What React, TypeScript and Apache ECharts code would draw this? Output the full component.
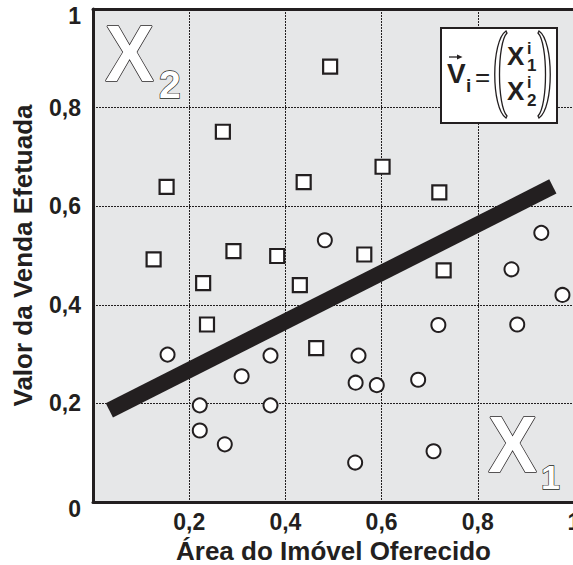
import React, { useEffect, useRef } from "react";
import * as echarts from "echarts";

// Tick labels (pt-BR decimal comma)
const xTickLabels = ["", "0,2", "0,4", "0,6", "0,8", "1"];
const yTickLabels = ["0", "0,2", "0,4", "0,6", "0,8", "1"];

// Class X2 (squares)
const squareX = [0.493, 0.270, 0.153, 0.438, 0.602, 0.720, 0.126, 0.292, 0.383, 0.229, 0.430, 0.564, 0.729, 0.237, 0.464];
const squareY = [0.883, 0.751, 0.639, 0.649, 0.680, 0.628, 0.492, 0.509, 0.499, 0.444, 0.440, 0.502, 0.470, 0.360, 0.312];

// Class X1 (circles)
const circleX = [0.482, 0.932, 0.870, 0.976, 0.718, 0.882, 0.155, 0.369, 0.309, 0.222, 0.369, 0.222, 0.274, 0.552, 0.546, 0.590, 0.676, 0.708, 0.545];
const circleY = [0.531, 0.546, 0.472, 0.420, 0.359, 0.360, 0.299, 0.297, 0.255, 0.196, 0.196, 0.145, 0.117, 0.297, 0.242, 0.237, 0.248, 0.103, 0.080];

// Separating line
const lineX = [0.034, 0.956];
const lineY = [0.186, 0.640];

const DARK = "#231f20";
const FONT = "'Liberation Sans', Arial, Helvetica, sans-serif";

const LPAREN = "M13 0 C-2 10 -2 77 13 87 L14 85 C4 75 4 12 14 2 Z";

export default function App() {
  const ref = useRef<HTMLDivElement>(null);

  useEffect(() => {
    if (!ref.current) return;
    echarts.graphic.registerShape("lparen", echarts.graphic.extendPath(LPAREN, {}) as any);
    const chart = echarts.init(ref.current, null, { renderer: "svg" });

    const idx = (v: number) => Math.round(v / 0.2);

    const option: any = {
      animation: false,
      grid: {
        left: 93,
        top: 9,
        width: 481,
        height: 493,
        show: true,
        backgroundColor: "#e6e7e8",
        borderWidth: 0,
        containLabel: false,
        outerBoundsMode: "none",
      },
      xAxis: [
        {
          type: "value",
          min: 0,
          max: 1,
          interval: 0.2,
          name: "Área do Imóvel Oferecido",
          nameLocation: "middle",
          nameGap: 28,
          nameTextStyle: { fontFamily: FONT, fontWeight: "bold", fontSize: 26, color: DARK },
          axisLine: { show: true, onZero: false, lineStyle: { color: DARK, width: 3 } },
          axisTick: { show: false },
          axisLabel: {
            margin: 8,
            fontFamily: FONT,
            fontWeight: "bold",
            fontSize: 23,
            color: DARK,
            hideOverlap: false,
            formatter: (v: number) => xTickLabels[idx(v)],
          },
          splitLine: { show: true, lineStyle: { color: DARK, width: 1, type: [2, 1] } },
        },
        {
          type: "value",
          position: "top",
          min: 0,
          max: 1,
          axisLine: { show: true, onZero: false, lineStyle: { color: DARK, width: 3 } },
          axisTick: { show: false },
          axisLabel: { show: false },
          splitLine: { show: false },
        },
      ],
      yAxis: {
        type: "value",
        min: 0,
        max: 1,
        interval: 0.2,
        name: "Valor da Venda Efetuada",
        nameLocation: "middle",
        nameGap: 57,
        nameTextStyle: { fontFamily: FONT, fontWeight: "bold", fontSize: 26, color: DARK },
        axisLine: { show: true, onZero: false, lineStyle: { color: DARK, width: 3 } },
        axisTick: { show: false },
        axisLabel: {
          margin: 12,
          fontFamily: FONT,
          fontWeight: "bold",
          fontSize: 23,
          color: DARK,
          formatter: (v: number) => {
            const i = idx(v);
            const t = yTickLabels[i];
            return i === 0 || i === 5 ? "{s|" + t + "}" : t;
          },
          rich: {
            s: {
              fontFamily: FONT,
              fontWeight: "bold",
              fontSize: 23,
              color: DARK,
              padding: [14, 0, 0, 0],
            },
          },
        },
        splitLine: { show: true, lineStyle: { color: DARK, width: 1, type: [2, 1] } },
      },
      series: [
        {
          type: "line",
          data: lineX.map((x, i) => [x, lineY[i]]),
          showSymbol: false,
          symbol: "none",
          lineStyle: { color: DARK, width: 16, cap: "butt" },
          z: 2,
        },
        {
          type: "scatter",
          data: squareX.map((x, i) => [x, squareY[i]]),
          symbol: "rect",
          symbolSize: 14,
          itemStyle: { color: "#ffffff", borderColor: DARK, borderWidth: 2.2, opacity: 1 },
          z: 3,
        },
        {
          type: "scatter",
          data: circleX.map((x, i) => [x, circleY[i]]),
          symbol: "circle",
          symbolSize: 14,
          itemStyle: { color: "#ffffff", borderColor: DARK, borderWidth: 2, opacity: 1 },
          z: 3,
        },
      ],
      graphic: [
        // X2 label
        {
          type: "text", x: 105, y: 53, scaleX: 0.92, z: 10,
          style: { text: "X", fill: "#ffffff", stroke: DARK, lineWidth: 1.5, fontFamily: FONT, fontWeight: "bold", fontSize: 80, align: "left", verticalAlign: "middle" },
        },
        {
          type: "text", x: 159, y: 84, z: 10,
          style: { text: "2", fill: "#ffffff", stroke: DARK, lineWidth: 1.3, fontFamily: FONT, fontWeight: "bold", fontSize: 39, align: "left", verticalAlign: "middle" },
        },
        // X1 label
        {
          type: "text", x: 488, y: 444, scaleX: 0.92, z: 10,
          style: { text: "X", fill: "#ffffff", stroke: DARK, lineWidth: 1.5, fontFamily: FONT, fontWeight: "bold", fontSize: 80, align: "left", verticalAlign: "middle" },
        },
        {
          type: "text", x: 541, y: 476.5, z: 10,
          style: { text: "1", fill: "#ffffff", stroke: DARK, lineWidth: 1.3, fontFamily: FONT, fontWeight: "bold", fontSize: 34, align: "left", verticalAlign: "middle" },
        },
        // formula box
        {
          type: "rect", z: 10,
          shape: { x: 441, y: 28, width: 116, height: 95 },
          style: { fill: "#ffffff", stroke: DARK, lineWidth: 2 },
        },
        {
          type: "text", x: 447, y: 73.5, z: 11,
          style: { text: "V", fill: DARK, fontFamily: FONT, fontWeight: "bold", fontSize: 28, align: "left", verticalAlign: "middle" },
        },
        {
          type: "line", z: 11,
          shape: { x1: 449, y1: 57, x2: 460, y2: 57 },
          style: { stroke: DARK, lineWidth: 1.3 },
        },
        {
          type: "polygon", z: 11,
          shape: { points: [[457, 54.5], [462.5, 57], [457, 59.5]] },
          style: { fill: DARK },
        },
        {
          type: "text", x: 466, y: 85, z: 11,
          style: { text: "i", fill: DARK, fontFamily: FONT, fontWeight: "bold", fontSize: 19, align: "left", verticalAlign: "middle" },
        },
        {
          type: "text", x: 482.5, y: 77, z: 11,
          style: { text: "=", fill: DARK, fontFamily: FONT, fontWeight: "normal", fontSize: 26, align: "center", verticalAlign: "middle" },
        },
        {
          type: "lparen", x: 493, y: 31, z: 11,
          style: { fill: "#ffffff", stroke: DARK, lineWidth: 1.3 },
        },
        {
          type: "lparen", x: 552, y: 31, scaleX: -1, z: 11,
          style: { fill: "#ffffff", stroke: DARK, lineWidth: 1.3 },
        },
        {
          type: "text", x: 507, y: 56, z: 11,
          style: { text: "X", fill: DARK, fontFamily: FONT, fontWeight: "bold", fontSize: 26, align: "left", verticalAlign: "middle" },
        },
        {
          type: "text", x: 527, y: 48, z: 11,
          style: { text: "i", fill: DARK, fontFamily: FONT, fontWeight: "bold", fontSize: 16, align: "left", verticalAlign: "middle" },
        },
        {
          type: "text", x: 527, y: 65, z: 11,
          style: { text: "1", fill: DARK, fontFamily: FONT, fontWeight: "bold", fontSize: 17, align: "left", verticalAlign: "middle" },
        },
        {
          type: "text", x: 507, y: 91, z: 11,
          style: { text: "X", fill: DARK, fontFamily: FONT, fontWeight: "bold", fontSize: 26, align: "left", verticalAlign: "middle" },
        },
        {
          type: "text", x: 527, y: 82.5, z: 11,
          style: { text: "i", fill: DARK, fontFamily: FONT, fontWeight: "bold", fontSize: 16, align: "left", verticalAlign: "middle" },
        },
        {
          type: "text", x: 527, y: 100.5, z: 11,
          style: { text: "2", fill: DARK, fontFamily: FONT, fontWeight: "bold", fontSize: 17, align: "left", verticalAlign: "middle" },
        },
      ],
    };

    chart.setOption(option);
    return () => {
      chart.dispose();
    };
  }, []);

  return (
    <div
      ref={ref}
      style={{ position: "fixed", left: 0, top: 0, width: 573, height: 565, background: "#ffffff" }}
    />
  );
}
